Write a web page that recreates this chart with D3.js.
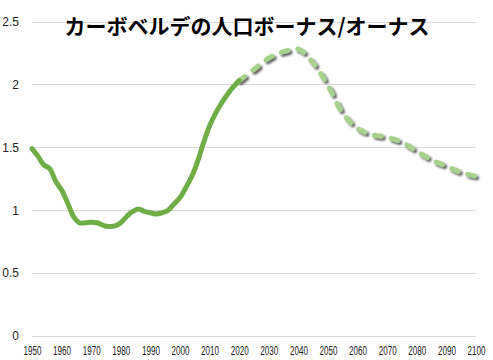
<!DOCTYPE html>
<html><head><meta charset="utf-8">
<script src="https://cdn.jsdelivr.net/npm/d3@7"></script>
<style>body{margin:0;background:#fff}</style>
</head><body>
<svg id="chart" width="493" height="360"></svg>
<script>
const title = "カーボベルデの人口ボーナス/オーナス";
const histYears = [1950,1952,1954,1956,1958,1960,1962,1964,1966,1968,1970,1972,1974,1976,1978,1980,1982,1984,1986,1988,1990,1992,1994,1996,1998,2000,2002,2004,2006,2008,2010,2012,2014,2016,2018,2020];
const histValues = [1.49,1.43,1.36,1.33,1.23,1.16,1.06,0.95,0.90,0.90,0.905,0.90,0.88,0.87,0.875,0.90,0.95,0.99,1.01,0.99,0.98,0.97,0.98,1.00,1.05,1.10,1.18,1.27,1.39,1.54,1.67,1.77,1.85,1.92,1.98,2.03];
const projYears = [2020,2025,2030,2035,2040,2045,2050,2055,2060,2065,2070,2075,2080,2085,2090,2095,2100];
const projValues = [2.03,2.12,2.21,2.26,2.28,2.17,1.99,1.77,1.65,1.60,1.58,1.54,1.47,1.40,1.35,1.30,1.27];
const xTicks = [1950,1960,1970,1980,1990,2000,2010,2020,2030,2040,2050,2060,2070,2080,2090,2100];
const yTicks = [0,0.5,1,1.5,2,2.5];

const svg = d3.select("#chart");
const x = d3.scaleLinear().domain([1950,2100]).range([32,476]);
const y = d3.scaleLinear().domain([0,2.5]).range([336,21.5]);

const defs = svg.append("defs");
const f = defs.append("filter").attr("id","shadow").attr("x","-10%").attr("y","-10%").attr("width","120%").attr("height","130%");
f.append("feDropShadow").attr("dx",2).attr("dy",2).attr("stdDeviation",1.2)
  .attr("flood-color","#444").attr("flood-opacity",0.85);

// gridlines
svg.append("g").selectAll("line").data(yTicks).join("line")
  .attr("x1",x(1950)).attr("x2",x(2100))
  .attr("y1",d=>Math.round(y(d))+0.5).attr("y2",d=>Math.round(y(d))+0.5)
  .attr("stroke","#d9d9d9").attr("stroke-width",1);

// y axis labels
const yAxis = d3.axisLeft(y).tickValues(yTicks).tickSize(0).tickPadding(0).tickFormat(d=>String(d));
const gy = svg.append("g").attr("transform","translate(19,0)").call(yAxis);
gy.select(".domain").remove();
gy.selectAll("text").attr("font-family","Liberation Sans, Arial, sans-serif").attr("font-size",12).attr("fill","#222");

// x axis labels
const xAxis = d3.axisBottom(x).tickValues(xTicks).tickSize(0).tickPadding(0).tickFormat(d=>String(d));
const gx = svg.append("g").attr("transform","translate(0,346)").call(xAxis);
gx.select(".domain").remove();
gx.selectAll("text").attr("font-family","Liberation Sans, Arial, sans-serif").attr("font-size",12).attr("fill","#222")
  .attr("dy","0.72em").attr("textLength",18).attr("lengthAdjust","spacingAndGlyphs");

// lines
const lineH = d3.line().x((d,i)=>x(histYears[i])).y(d=>y(d)).curve(d3.curveCatmullRom.alpha(0.5));
const lineP = d3.line().x((d,i)=>x(projYears[i])).y(d=>y(d)).curve(d3.curveCatmullRom.alpha(0.5));

svg.append("path").datum(projValues).attr("d",lineP)
  .attr("fill","none").attr("stroke","#a9d18e").attr("stroke-width",5)
  .attr("stroke-dasharray","7,10").attr("stroke-linecap","round")
  .attr("filter","url(#shadow)");

svg.append("path").datum(histValues).attr("d",lineH)
  .attr("fill","none").attr("stroke","#70ad47").attr("stroke-width",5)
  .attr("stroke-linejoin","round").attr("stroke-linecap","round");

// title
svg.append("text").attr("x",247).attr("y",34).attr("text-anchor","middle")
  .attr("font-family","Noto Sans CJK JP, sans-serif").attr("font-weight","bold")
  .attr("font-size",21).attr("fill","#000").text(title);
</script>
</body></html>
